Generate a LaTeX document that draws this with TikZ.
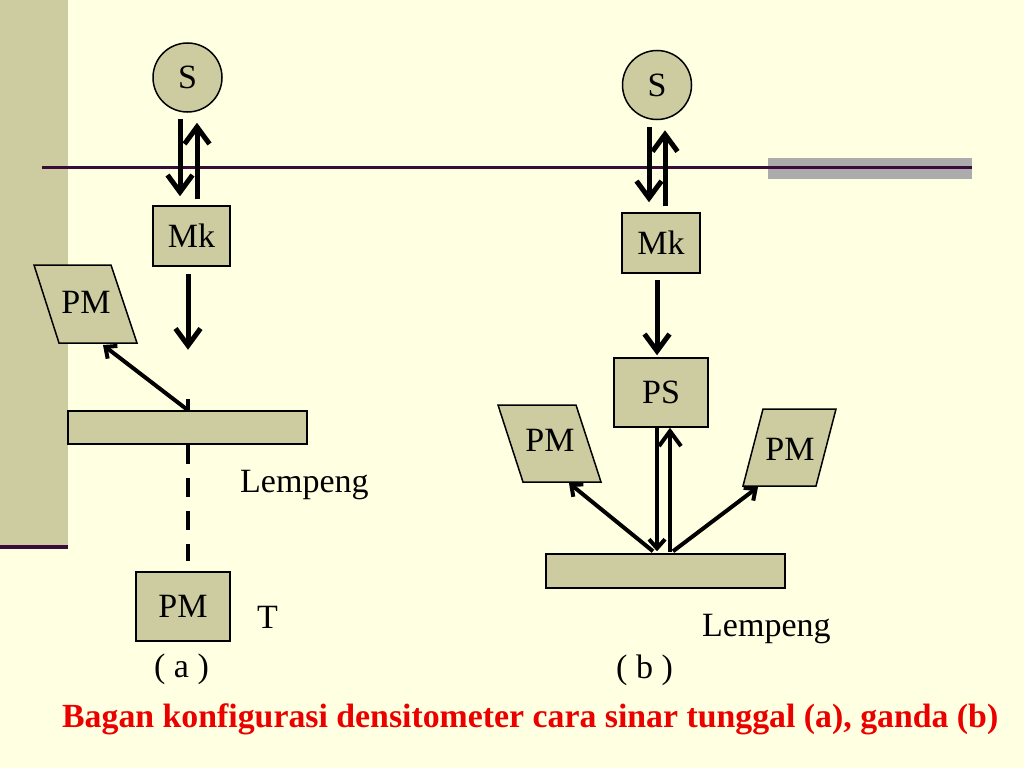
\documentclass[tikz,border=0pt]{standalone}
\usepackage{fontspec}
\setmainfont{Liberation Serif}
\usetikzlibrary{arrows.meta}
\definecolor{bg}{RGB}{255,255,226}
\definecolor{khaki}{RGB}{204,204,160}
\definecolor{rulec}{RGB}{58,12,58}
\definecolor{graybar}{RGB}{172,172,172}
\definecolor{capred}{RGB}{235,0,0}
\begin{document}
\begin{tikzpicture}[x=1pt,y=-1pt,
  txt/.style={font=\fontsize{34}{38}\selectfont, inner sep=0pt},
  box/.style={draw=black, line width=1.5pt, fill=khaki, inner sep=0pt, font=\fontsize{34}{38}\selectfont},
  plate/.style={draw=black, line width=1.5pt, fill=khaki, inner sep=0pt, minimum width=239pt},
  arr/.style={line width=5pt, -{Straight Barb[length=17pt,width=25pt,line width=5pt]}},
  darr/.style={line width=4pt, -{Straight Barb[length=9pt,width=16pt,line width=4pt]}},
  uarr/.style={line width=4pt, -{Straight Barb[length=15pt,width=22pt,line width=4pt]}},
  dashline/.style={line width=4.5pt, dash pattern=on 19pt off 14pt}
]
\fill[bg] (0,0) rectangle (1024,768);
\useasboundingbox (0,0) rectangle (1024,768);
% slide decorations
\fill[khaki] (0,0) rectangle (68,545);
\draw[rulec, line width=4pt] (0,546.5) -- (68,546.5);
\fill[graybar] (768,158) rectangle (972,179);
\draw[rulec, line width=3pt] (42,167) -- (972,167);

% ---------- (a) ----------
\node[box, circle, minimum size=69pt] (sA) at (187.5,77.5) {S};
\node[box, minimum width=77pt, minimum height=60pt] (mkA) at (191.5,236) {Mk};
\node[plate, minimum height=33pt] (plateA) at (187.5,427.5) {};
\node[box, minimum width=94pt, minimum height=69pt] (pmA2) at (183,606.5) {PM};
\draw[box] (34,265) -- (111,265) -- (137,343) -- (59,343) -- cycle;
\node[txt] (pmA) at (86,302) {PM};
\coordinate (pmAtip) at (103,345);

\draw[arr] ([xshift=-7.5pt,yshift=-6pt]sA.south) -- ([xshift=-11.5pt,yshift=9pt]mkA.north);
\draw[arr] ([xshift=5.5pt,yshift=6pt]mkA.north) -- ([xshift=9.5pt,yshift=-10pt]sA.south);
\draw[arr] ([xshift=-3.5pt,yshift=-7pt]mkA.south) -- ++(0,76);
\draw[line width=4.5pt] ([xshift=0.5pt]plateA.north) -- ++(0,-11);
\draw[darr] ([xshift=0.5pt]plateA.north) -- (pmAtip);
\draw[dashline] ([xshift=0.5pt]plateA.south) -- ([xshift=5pt,yshift=10pt]pmA2.north);

\node[txt, anchor=base west] (lempA) at (240,492) {Lempeng};
\node[txt, anchor=base west] (tA) at (257,628) {T};
\node[txt, anchor=base] (capA) at (181.5,677) {( a )};

% ---------- (b) ----------
\node[box, circle, minimum size=69pt] (sB) at (657,85) {S};
\node[box, minimum width=78pt, minimum height=60pt] (mkB) at (661,243) {Mk};
\node[box, minimum width=94pt, minimum height=69pt] (psB) at (661,392.5) {PS};
\node[plate, minimum height=34pt] (plateB) at (665.5,571) {};
\draw[box] (498,405) -- (576,405) -- (601,482) -- (523,482) -- cycle;
\node[txt] (pmBL) at (550,440) {PM};
\draw[box] (763,409) -- (836,409) -- (816,486) -- (743,486) -- cycle;
\node[txt] (pmBR) at (790,449) {PM};
\coordinate (pmBLtip) at (569,483);
\coordinate (pmBRtip) at (758,487);

\draw[arr] ([xshift=-8pt,yshift=-7pt]sB.south) -- ([xshift=-12pt,yshift=10pt]mkB.north);
\draw[arr] ([xshift=4pt,yshift=6pt]mkB.north) -- ([xshift=8pt,yshift=-10pt]sB.south);
\draw[arr] ([xshift=-4pt,yshift=-6pt]mkB.south) -- ([xshift=-4pt,yshift=2pt]psB.north);
\draw[darr] ([xshift=-4pt]psB.south) -- ([xshift=-8.5pt,yshift=2pt]plateB.north);
\draw[uarr] ([xshift=4.5pt,yshift=1pt]plateB.north) -- ([xshift=9pt]psB.south);
\draw[darr] ([xshift=-12.5pt,yshift=2pt]plateB.north) -- (pmBLtip);
\draw[darr] ([xshift=7.5pt,yshift=2pt]plateB.north) -- (pmBRtip);

\node[txt, anchor=base west] (lempB) at (702,636) {Lempeng};
\node[txt, anchor=base] (capB) at (644.5,678) {( b )};

% caption
\node[txt, anchor=base west, text=capred, font=\fontsize{33.8}{38}\selectfont\bfseries] (title) at (62,727) {Bagan konfigurasi densitometer cara sinar tunggal (a), ganda (b)};
\end{tikzpicture}
\end{document}
